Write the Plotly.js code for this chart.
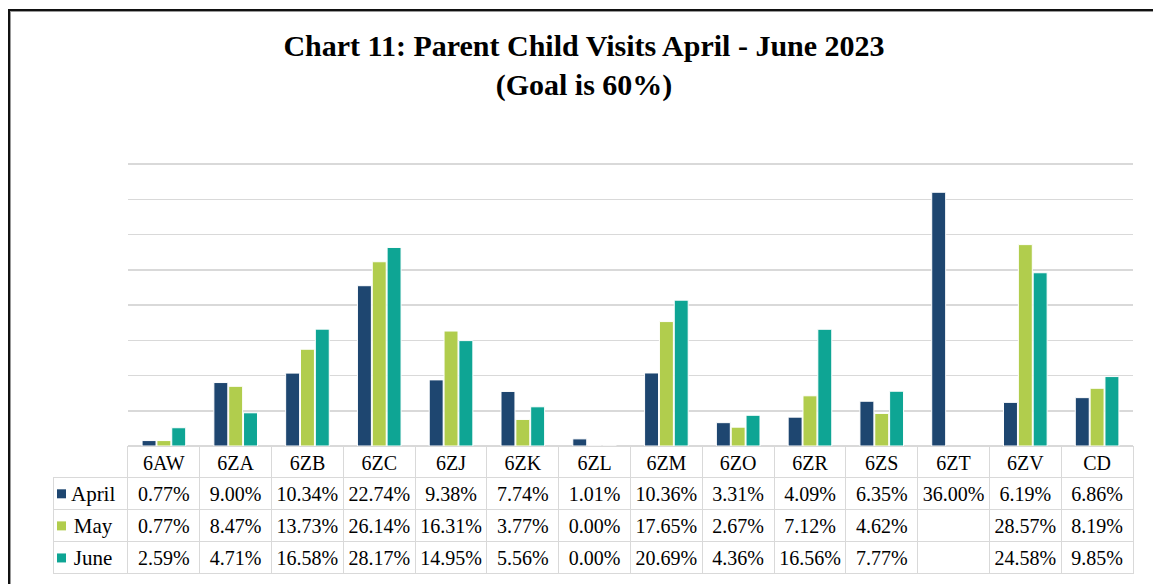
<!DOCTYPE html>
<html>
<head>
<meta charset="utf-8">
<script src="https://cdn.plot.ly/plotly-3.0.1.min.js"></script>
<style>
  html, body { margin: 0; padding: 0; background: #fff; }
  #wrap { position: relative; width: 1153px; height: 584px; overflow: hidden; }
  #chart { position: absolute; left: 0; top: 0; width: 1153px; height: 584px; z-index: 1; }
  #frame { position: absolute; left: 8px; top: 9px; width: 1160px; height: 600px; z-index: 10;
           border-left: 2px solid #111; border-top: 2px solid #111;
           box-shadow: inset 1px 1px 0 #999; pointer-events: none; }
</style>
</head>
<body>
<div id="wrap">
  <div id="chart"></div>
  <div id="frame"></div>
</div>
<script>
const categories = ['6AW','6ZA','6ZB','6ZC','6ZJ','6ZK','6ZL','6ZM','6ZO','6ZR','6ZS','6ZT','6ZV','CD'];
const april = [0.77, 9.00, 10.34, 22.74, 9.38, 7.74, 1.01, 10.36, 3.31, 4.09, 6.35, 36.00, 6.19, 6.86];
const may   = [0.77, 8.47, 13.73, 26.14, 16.31, 3.77, 0.00, 17.65, 2.67, 7.12, 4.62, null, 28.57, 8.19];
const june  = [2.59, 4.71, 16.58, 28.17, 14.95, 5.56, 0.00, 20.69, 4.36, 16.56, 7.77, null, 24.58, 9.85];
const seriesNames = ['April', 'May', 'June'];
const colors = ['#1e4670', '#b1cd4d', '#0ea594'];

const series = [april, may, june];
const fontFam = '"Liberation Serif", "Times New Roman", serif';

const barTraces = series.map((vals, i) => ({
  type: 'bar',
  name: seriesNames[i],
  x: categories,
  y: vals,
  marker: { color: colors[i], line: { color: '#ffffff', width: 1 } },
  xaxis: 'x', yaxis: 'y',
  hoverinfo: 'x+y+name'
}));

// legend keys of the data table, drawn on a small overlay axis that spans the table's legend column
const keyTrace = {
  type: 'scatter',
  mode: 'markers',
  x: seriesNames.map(() => 8.5),
  y: seriesNames,
  marker: { symbol: 'square', size: 9, color: colors, line: { width: 0 } },
  xaxis: 'x2', yaxis: 'y2',
  hoverinfo: 'skip',
  cliponaxis: false
};

const fmt = v => (v === null || v === undefined) ? '' : v.toFixed(2) + '%';
const legendCol = seriesNames.map(n => '\u00a0' + n);
const cellCols = [legendCol].concat(categories.map((c, j) => series.map(s => fmt(s[j]))));

const headerLineColors = ['rgba(0,0,0,0)'].concat(categories.map(() => '#d9d9d9'));
const cellFills = ['rgba(0,0,0,0)'].concat(categories.map(() => '#ffffff'));
const cellSizes = [21].concat(categories.map(() => 20));

const tableTrace = {
  type: 'table',
  domain: { x: [0, 1], y: [0, 0.3114] },
  columnwidth: [75].concat(categories.map(() => 71.8)),
  header: {
    values: [''].concat(categories),
    align: 'center',
    height: 31,
    line: { color: headerLineColors, width: 1 },
    fill: { color: 'rgba(0,0,0,0)' },
    font: { family: fontFam, size: 20, color: '#000' }
  },
  cells: {
    values: cellCols,
    align: 'center',
    height: 32,
    line: { color: '#d9d9d9', width: 1 },
    fill: { color: cellFills },
    font: { family: fontFam, size: cellSizes, color: '#000' }
  }
};

const layout = {
  width: 1153,
  height: 584,
  paper_bgcolor: '#ffffff',
  plot_bgcolor: 'rgba(0,0,0,0)',
  margin: { l: 53, r: 20, t: 163, b: 9 },
  showlegend: false,
  barmode: 'group',
  bargap: 0.38,
  bargroupgap: 0.06,
  title: {
    text: 'Chart 11: Parent Child Visits April - June 2023<br>(Goal is 60%)',
    font: { family: fontFam, size: 30, color: '#000', weight: 'bold' },
    x: 584 / 1153, xanchor: 'center', xref: 'container',
    y: 1 - 56 / 584, yanchor: 'top', yref: 'container'
  },
  xaxis: {
    domain: [0.06944, 1],
    range: [-0.5, 13.5],
    showticklabels: false,
    showgrid: false,
    zeroline: false,
    showline: false,
    ticks: '',
    fixedrange: true
  },
  yaxis: {
    domain: [0.31311, 1],
    range: [0, 40.15],
    tickvals: [0, 5, 10, 15, 20, 25, 30, 35, 40],
    showticklabels: false,
    showgrid: true,
    gridcolor: '#d9d9d9',
    gridwidth: 1.5,
    zeroline: true,
    zerolinecolor: '#d9d9d9',
    zerolinewidth: 1.5,
    showline: false,
    ticks: '',
    fixedrange: true
  },
  xaxis2: {
    domain: [0, 75 / 1080],
    range: [0, 75],
    anchor: 'y2',
    visible: false,
    fixedrange: true
  },
  yaxis2: {
    domain: [1 / 411, 97 / 411],
    type: 'category',
    categoryorder: 'array',
    categoryarray: seriesNames.slice().reverse(),
    range: [-0.5, 2.5],
    anchor: 'x2',
    visible: false,
    fixedrange: true
  }
};

Plotly.newPlot('chart', barTraces.concat([tableTrace, keyTrace]), layout, { displayModeBar: false, staticPlot: true });
</script>
</body>
</html>
